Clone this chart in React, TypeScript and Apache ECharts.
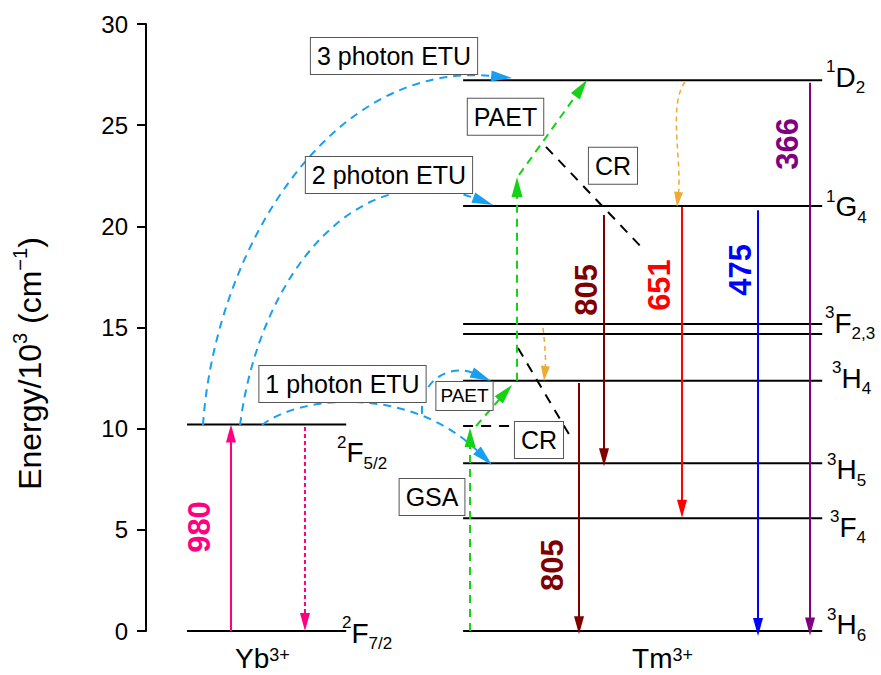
import { useEffect, useRef } from 'react';
import * as echarts from 'echarts';

const FONT = '"Liberation Sans", Arial, Helvetica, sans-serif';

// Energy axis, 10^3 cm^-1
const energyTicks = [0, 5, 10, 15, 20, 25, 30];

// Yb3+ manifolds: 2F7/2, 2F5/2
const ybLevelEnergy = [0, 10.2];
const ybLevelSup = ['2', '2'];
const ybLevelTerm = ['F', 'F'];
const ybLevelSub = ['7/2', '5/2'];

// Tm3+ manifolds: 3H6, 3F4, 3H5, 3H4, 3F3, 3F2, 1G4, 1D2
const tmLevelEnergy = [0, 5.57, 8.29, 12.37, 14.68, 15.17, 21.0, 27.22];
const tmLabelEnergy = [0, 5.57, 8.29, 12.37, 14.93, 21.0, 27.22];
const tmLabelSup = ['3', '3', '3', '3', '3', '1', '1'];
const tmLabelTerm = ['H', 'F', 'H', 'H', 'F', 'G', 'D'];
const tmLabelSub = ['6', '4', '5', '4', '2,3', '4', '2'];

// Optical transitions: wavelength (nm), starting energy, direction (+1 up, -1 down)
const bandNm = [980, 805, 651, 475, 366, 805];
const bandFrom = [0, 20.56, 20.96, 20.8, 27.1, 12.26];
const bandSign = [1, -1, -1, -1, -1, -1];
const bandColor = ['#ff0080', '#800000', '#ff0000', '#0000ff', '#800080', '#800000'];

// Yb3+ back relaxation and the Tm3+ virtual level reached by GSA
const ybRelax = [10.08, 0];
const virtualLevel = 10.13;

// Process tags
const tagText = ['3 photon ETU', '2 photon ETU', 'PAET', 'CR', '1 photon ETU', 'PAET', 'CR', 'GSA'];

// Ion names
const ions = ['Yb', 'Tm'];
const ionCharge = '3+';

// ---- layout in a 0..100 horizontal frame ----
const ybSpan = [5.86, 28.6];
const tmSpan = [45.3, 96.6];
const ybLabelPos = [[28.0, -0.1], [27.29, 8.82]];
const tmLabelPos = [
  [97.29, 0.3], [97.71, 5.14], [97.29, 7.96], [98.0, 12.48],
  [97.0, 15.22], [97.14, 20.96], [97.14, 27.36],
];
const bandX = [12.14, 65.43, 76.57, 87.43, 94.86, 61.86];
const bandLabelPos = [[7.71, 5.14], [62.86, 16.86], [73.29, 17.1], [84.86, 17.85], [91.71, 24.07], [58.0, 3.26]];
const relaxX = 22.71;
const gsaX = 46.29;
const tagPos = [
  [35.43, 28.42], [34.71, 22.54], [51.36, 25.41], [66.71, 22.99],
  [28.07, 12.21], [45.5, 11.62], [56.14, 9.44], [40.86, 6.62],
];
const tagSize = [25, 25, 25, 25, 25, 19, 25, 25];
const ionPos = [[16.64, -1.36], [73.79, -1.36]];

// energy-transfer upconversion paths (cubic Bezier control points)
const etuPaths = [
  [[8.14, 10.18], [9.86, 18.83], [26.29, 28.22], [52.29, 27.33]],
  [[13.43, 10.18], [16.29, 17.84], [30.57, 23.53], [49.57, 21.05]],
  [[16.57, 10.18], [22.0, 11.66], [37.71, 12.16], [49.43, 8.2]],
  [[39.43, 10.73], [39.14, 12.65], [44.14, 13.15], [49.29, 12.36]],
];
// nonradiative relaxation paths
const relaxPaths = [
  [[77.0, 27.13], [74.57, 26.0], [76.57, 23.28], [75.86, 20.96]],
  [[56.71, 14.98], [57.0, 14.14], [57.14, 13.39], [56.86, 12.36]],
];
// phonon-assisted energy transfer steps
const paetSteps = [
  [[47.14, 10.13], [52.29, 12.16]],
  [[53.0, 12.37], [53.0, 22.44]],
  [[53.29, 22.54], [63.0, 27.23]],
];
// cross-relaxation paths
const crPaths = [
  [[57.14, 23.93], [71.29, 18.78]],
  [[53.14, 13.99], [61.0, 9.39]],
];

const ETU_BLUE = '#18a0f0';
const GREEN = '#14d214';
const ORANGE = '#eeaa33';

type Pt = number[];

function lineEl(a: Pt, b: Pt, stroke: string, lineWidth: number, lineDash?: number[]) {
  const style: any = { stroke, lineWidth, fill: 'none' };
  if (lineDash) style.lineDash = lineDash;
  return { type: 'line', shape: { x1: a[0], y1: a[1], x2: b[0], y2: b[1] }, style };
}

function headEl(tip: Pt, from: Pt, len: number, wid: number, fill: string) {
  const dx = tip[0] - from[0];
  const dy = tip[1] - from[1];
  const d = Math.hypot(dx, dy) || 1;
  const ux = dx / d;
  const uy = dy / d;
  const bx = tip[0] - ux * len;
  const by = tip[1] - uy * len;
  const nx = (-uy * wid) / 2;
  const ny = (ux * wid) / 2;
  return {
    el: {
      type: 'polygon',
      shape: { points: [[tip[0], tip[1]], [bx + nx, by + ny], [bx - nx, by - ny]] },
      style: { fill },
    },
    base: [bx + ux * 2, by + uy * 2],
  };
}

function straightArrow(api: any, a: Pt, b: Pt, color: string, width: number, dash: number[] | undefined, len: number, wid: number) {
  const p0 = api.coord(a);
  const p1 = api.coord(b);
  const h = headEl(p1, p0, len, wid, color);
  return { type: 'group', children: [lineEl(p0, h.base, color, width, dash), h.el] };
}

function curveArrow(api: any, pts: Pt[], color: string, width: number, dash: number[], len: number, wid: number) {
  const [p0, c1, c2, p3] = pts.map((p) => api.coord(p));
  const h = headEl(p3, c2, len, wid, color);
  return {
    type: 'group',
    children: [
      {
        type: 'bezierCurve',
        shape: {
          x1: p0[0], y1: p0[1], cpx1: c1[0], cpy1: c1[1],
          cpx2: c2[0], cpy2: c2[1], x2: h.base[0], y2: h.base[1],
        },
        style: { stroke: color, lineWidth: width, lineDash: dash, fill: 'none' },
      },
      h.el,
    ],
  };
}

const levelRich = {
  s: { fontSize: 17, lineHeight: 17, verticalAlign: 'top', fontFamily: FONT, fill: '#000' },
  m: { fontSize: 28, lineHeight: 38, fontFamily: FONT, fill: '#000' },
  b: { fontSize: 17, lineHeight: 17, verticalAlign: 'bottom', fontFamily: FONT, fill: '#000' },
};

function levelLabel(api: any, pos: Pt, sup: string, term: string, sub: string) {
  const p = api.coord(pos);
  return {
    type: 'text',
    x: p[0],
    y: p[1],
    style: {
      text: `{s|${sup}}{m|${term}}{b|${sub}}`,
      rich: levelRich,
      fontFamily: FONT,
      fontSize: 28,
      fill: '#000',
      align: 'left',
      verticalAlign: 'middle',
    },
  };
}

function buildItems() {
  const items: ((api: any) => any)[] = [];

  // energy levels
  ybLevelEnergy.forEach((e) => {
    items.push((api) => lineEl(api.coord([ybSpan[0], e]), api.coord([ybSpan[1], e]), '#000', 2));
  });
  tmLevelEnergy.forEach((e) => {
    items.push((api) => lineEl(api.coord([tmSpan[0], e]), api.coord([tmSpan[1], e]), '#000', 2));
  });
  // virtual level
  items.push((api) =>
    lineEl(api.coord([tmSpan[0], virtualLevel]), api.coord([paetSteps[1][0][0], virtualLevel]), '#000', 2, [10, 8])
  );

  // ETU paths
  etuPaths.forEach((path) => {
    items.push((api) => curveArrow(api, path, ETU_BLUE, 2, [8, 6], 21, 11));
  });

  // relaxation paths
  relaxPaths.forEach((path) => {
    items.push((api) => curveArrow(api, path, ORANGE, 1.5, [5, 4], 15, 9));
  });

  // cross relaxation
  crPaths.forEach((seg) => {
    items.push((api) => lineEl(api.coord(seg[0]), api.coord(seg[1]), '#000', 2, [10, 8]));
  });

  // ground state absorption
  items.push((api) => straightArrow(api, [gsaX, 0], [gsaX, virtualLevel - 0.1], GREEN, 2, [8, 6], 19, 11));
  // phonon assisted steps
  paetSteps.forEach((seg) => {
    items.push((api) => straightArrow(api, seg[0], seg[1], GREEN, 2, [8, 6], 20, 11));
  });

  // Yb3+ relaxation
  items.push((api) => straightArrow(api, [relaxX, ybRelax[0]], [relaxX, ybRelax[1]], '#ff0080', 2, [4, 3], 18, 10));

  // optical transitions: length follows the photon energy 10^7/lambda cm^-1
  bandNm.forEach((nm, i) => {
    const to = bandFrom[i] + (bandSign[i] * 10000) / nm;
    items.push((api) => straightArrow(api, [bandX[i], bandFrom[i]], [bandX[i], to], bandColor[i], 2, undefined, 18, 10));
  });

  // transition wavelengths
  bandNm.forEach((nm, i) => {
    items.push((api) => {
      const p = api.coord(bandLabelPos[i]);
      return {
        type: 'text',
        x: p[0],
        y: p[1],
        rotation: Math.PI / 2,
        style: {
          text: String(nm),
          fontFamily: FONT,
          fontSize: 31,
          fontWeight: 'bold',
          fill: bandColor[i],
          align: 'center',
          verticalAlign: 'middle',
        },
      };
    });
  });

  // process tags
  tagText.forEach((t, i) => {
    items.push((api) => {
      const p = api.coord(tagPos[i]);
      const fs = tagSize[i];
      return {
        type: 'text',
        x: p[0],
        y: p[1],
        style: {
          text: t,
          fontFamily: FONT,
          fontSize: fs,
          lineHeight: fs + 3,
          fill: '#000',
          backgroundColor: '#fff',
          borderColor: '#555',
          borderWidth: 1,
          padding: fs > 20 ? [4, 6, 4, 6] : [3, 4, 3, 4],
          align: 'center',
          verticalAlign: 'middle',
        },
      };
    });
  });

  // level labels
  ybLevelEnergy.forEach((_, i) => {
    items.push((api) => levelLabel(api, ybLabelPos[i], ybLevelSup[i], ybLevelTerm[i], ybLevelSub[i]));
  });
  tmLabelEnergy.forEach((_, i) => {
    items.push((api) => levelLabel(api, tmLabelPos[i], tmLabelSup[i], tmLabelTerm[i], tmLabelSub[i]));
  });

  // ion names
  ions.forEach((ion, i) => {
    items.push((api) => {
      const p = api.coord(ionPos[i]);
      return {
        type: 'text',
        x: p[0],
        y: p[1],
        style: {
          text: `{m|${ion}}{s|${ionCharge}}`,
          rich: {
            m: { fontSize: 28, lineHeight: 26, fontFamily: FONT, fill: '#000' },
            s: { fontSize: 18, lineHeight: 12, verticalAlign: 'top', fontFamily: FONT, fill: '#000' },
          },
          fontFamily: FONT,
          fontSize: 28,
          fill: '#000',
          align: 'center',
          verticalAlign: 'middle',
        },
      };
    });
  });

  return items;
}

export default function App() {
  const ref = useRef<HTMLDivElement>(null);

  useEffect(() => {
    document.body.style.margin = '0';
    const chart = echarts.init(ref.current!, null, { renderer: 'svg' });
    const items = buildItems();

    chart.setOption({
      animation: false,
      backgroundColor: '#fff',
      grid: { left: 146, right: 35, top: 24, bottom: 44, containLabel: false, outerBoundsMode: 'none' },
      xAxis: { type: 'value', min: 0, max: 100, show: false },
      yAxis: {
        type: 'value',
        min: energyTicks[0],
        max: energyTicks[energyTicks.length - 1],
        interval: energyTicks[1] - energyTicks[0],
        axisLine: { show: true, lineStyle: { color: '#000', width: 2 } },
        axisTick: { show: true, length: 9, lineStyle: { color: '#000', width: 2 } },
        axisLabel: { fontSize: 24, color: '#000', fontFamily: FONT, margin: 18 },
        splitLine: { show: false },
        name: '{m|Energy/10}{s|3}{m| (cm}{s|\u22121}{m|)}',
        nameLocation: 'middle',
        nameGap: 96,
        nameRotate: 90,
        nameTextStyle: {
          fontFamily: FONT,
          fontSize: 32,
          color: '#000',
          padding: [0, 72, 0, 0],
          rich: {
            m: { fontSize: 32, lineHeight: 40, fontFamily: FONT, color: '#000' },
            s: { fontSize: 20, lineHeight: 20, verticalAlign: 'top', fontFamily: FONT, color: '#000' },
          },
        },
      },
      series: [
        {
          type: 'custom',
          coordinateSystem: 'cartesian2d',
          clip: false,
          silent: true,
          data: items.map(() => [50, 15]),
          renderItem: (params: any, api: any) => items[params.dataIndex](api),
        },
      ],
    });

    return () => chart.dispose();
  }, []);

  return <div ref={ref} style={{ width: 881, height: 675 }} />;
}
